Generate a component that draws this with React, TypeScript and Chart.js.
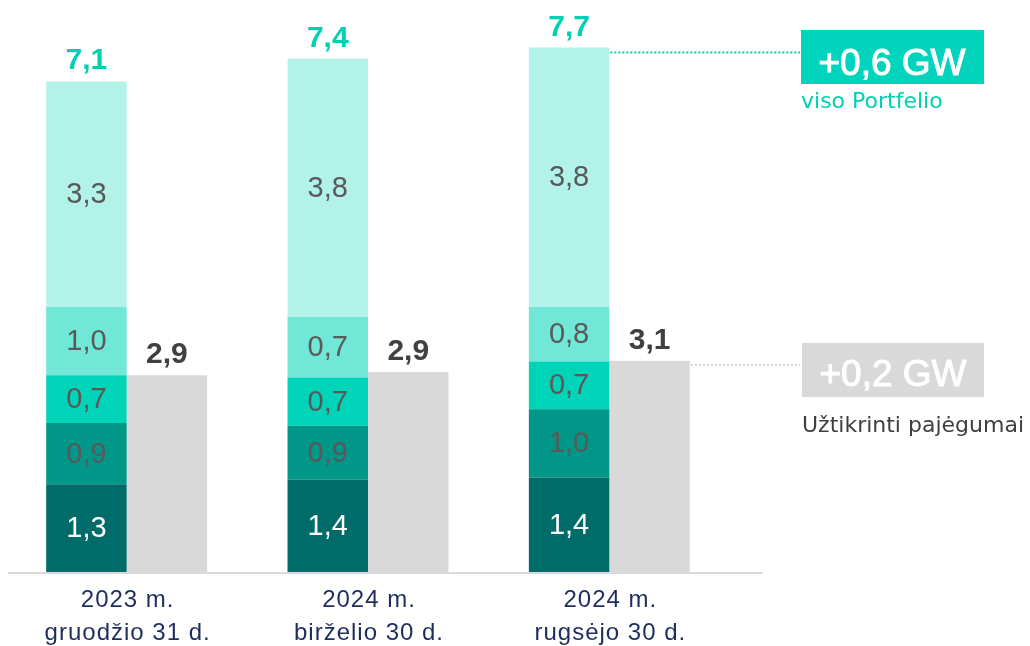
import React, { useEffect, useRef } from "react";
import { Chart, registerables } from "chart.js";

Chart.register(...registerables);

const categories: string[][] = [
  ["2023 m.", "gruodžio 31 d."],
  ["2024 m.", "birželio 30 d."],
  ["2024 m.", "rugsėjo 30 d."],
];

// stacked segments, bottom to top (GW)
const seg1 = [1.27, 1.34, 1.37];
const seg2 = [0.89, 0.78, 0.99];
const seg3 = [0.69, 0.7, 0.69];
const seg4 = [0.99, 0.88, 0.79];
const seg5 = [3.27, 3.74, 3.76];
const secured = [2.85, 2.9, 3.06];

const seg1Labels = ["1,3", "1,4", "1,4"];
const seg2Labels = ["0,9", "0,9", "1,0"];
const seg3Labels = ["0,7", "0,7", "0,7"];
const seg4Labels = ["1,0", "0,7", "0,8"];
const seg5Labels = ["3,3", "3,8", "3,8"];
const totalLabels = ["7,1", "7,4", "7,7"];
const securedLabels = ["2,9", "2,9", "3,1"];

const portfolioDelta = "+0,6 GW";
const portfolioText = "viso Portfelio";
const securedDelta = "+0,2 GW";
const securedText = "Užtikrinti pajėgumai";

const segColors = ["#006c69", "#009688", "#00d4b8", "#71e8d7", "#b3f2e9"];
const greyColor = "#d9d9d9";
const teal = "#00d1b2";

const labelPlugin = {
  id: "customLabels",
  afterDatasetsDraw(chart: any) {
    const ctx = chart.ctx as CanvasRenderingContext2D;
    const area = chart.chartArea;
    ctx.save();

    // axis line
    ctx.strokeStyle = "#d9d9d9";
    ctx.lineWidth = 2;
    ctx.beginPath();
    ctx.moveTo(8, area.bottom + 1);
    ctx.lineTo(763, area.bottom + 1);
    ctx.stroke();

    // segment labels
    const segLabels = [seg1Labels, seg2Labels, seg3Labels, seg4Labels, seg5Labels];
    ctx.textAlign = "center";
    ctx.textBaseline = "middle";
    ctx.font = '29px "Liberation Sans", Arial, sans-serif';
    segLabels.forEach((labs, di) => {
      const meta = chart.getDatasetMeta(di);
      meta.data.forEach((el: any, i: number) => {
        ctx.fillStyle = di === 0 ? "#ffffff" : "#595959";
        ctx.fillText(labs[i], el.x, (el.y + el.base) / 2 + 1);
      });
    });

    // totals
    ctx.textBaseline = "alphabetic";
    ctx.font = 'bold 30px "Liberation Sans", Arial, sans-serif';
    const topMeta = chart.getDatasetMeta(4);
    topMeta.data.forEach((el: any, i: number) => {
      ctx.fillStyle = teal;
      ctx.fillText(totalLabels[i], el.x, el.y - 12);
    });
    const greyMeta = chart.getDatasetMeta(5);
    greyMeta.data.forEach((el: any, i: number) => {
      ctx.fillStyle = "#404040";
      ctx.fillText(securedLabels[i], el.x, el.y - 12);
    });

    // category labels
    const xs = chart.scales.x;
    ctx.fillStyle = "#1f2d5e";
    ctx.font = '24px "Liberation Sans", Arial, sans-serif';
    (ctx as any).letterSpacing = "1px";
    categories.forEach((lines, i) => {
      const cx = xs.getPixelForValue(i);
      ctx.fillText(lines[0], cx + 1, area.bottom + 35);
      ctx.fillText(lines[1], cx + 1, area.bottom + 68);
    });
    (ctx as any).letterSpacing = "0px";

    // annotation lines
    const last = topMeta.data[topMeta.data.length - 1] as any;
    ctx.setLineDash([2, 2]);
    ctx.lineWidth = 2;
    ctx.strokeStyle = teal;
    ctx.beginPath();
    ctx.moveTo(last.x + last.width / 2 + 1, last.y + 5);
    ctx.lineTo(800, last.y + 5);
    ctx.stroke();

    const lastGrey = greyMeta.data[greyMeta.data.length - 1] as any;
    ctx.lineWidth = 1.5;
    ctx.strokeStyle = "#c8c8c8";
    ctx.beginPath();
    ctx.moveTo(lastGrey.x + lastGrey.width / 2 + 1, lastGrey.y + 4);
    ctx.lineTo(800, lastGrey.y + 4);
    ctx.stroke();
    ctx.setLineDash([]);

    // boxes
    ctx.fillStyle = "#00d4bc";
    ctx.fillRect(801, 30, 183, 54);
    ctx.fillStyle = greyColor;
    ctx.fillRect(802, 343, 182, 54);

    ctx.textAlign = "center";
    ctx.fillStyle = "#ffffff";
    ctx.strokeStyle = "#ffffff";
    ctx.lineWidth = 1;
    ctx.font = '37px "Liberation Sans", Arial, sans-serif';
    ctx.fillText(portfolioDelta, 892, 75);
    ctx.strokeText(portfolioDelta, 892, 75);
    ctx.fillText(securedDelta, 893, 386);
    ctx.strokeText(securedDelta, 893, 386);

    ctx.textAlign = "left";
    ctx.font = '22px "DejaVu Sans", sans-serif';
    ctx.fillStyle = teal;
    ctx.fillText(portfolioText, 801, 108);
    ctx.fillStyle = "#3f3f3f";
    ctx.fillText(securedText, 802, 432);

    ctx.restore();
  },
};

export default function App() {
  const ref = useRef<HTMLCanvasElement | null>(null);
  useEffect(() => {
    if (!ref.current) return;
    const segs = [seg1, seg2, seg3, seg4, seg5];
    const datasets: any[] = segs.map((d, i) => ({
      label: "seg" + (i + 1),
      data: d,
      backgroundColor: segColors[i],
      stack: "portfolio",
      borderWidth: 0,
      categoryPercentage: 0.667,
      barPercentage: 1.0,
    }));
    datasets.push({
      label: "secured",
      data: secured,
      backgroundColor: greyColor,
      stack: "secured",
      borderWidth: 0,
      categoryPercentage: 0.667,
      barPercentage: 1.0,
    });
    const chart = new Chart(ref.current, {
      type: "bar",
      data: { labels: categories.map((c) => c.join(" ")), datasets },
      options: {
        animation: false,
        responsive: false,
        devicePixelRatio: 1,
        layout: { padding: { left: 6, right: 300, top: 20, bottom: 74 } },
        plugins: { legend: { display: false }, tooltip: { enabled: false } },
        scales: {
          x: { display: false, stacked: true },
          y: { display: false, stacked: true, min: 0, max: 8 },
        },
      },
      plugins: [labelPlugin],
    });
    return () => chart.destroy();
  }, []);
  return (
    <div style={{ position: "absolute", left: 0, top: 0, width: 1030, height: 646, background: "#fff" }}>
      <canvas ref={ref} width={1030} height={646} />
    </div>
  );
}
